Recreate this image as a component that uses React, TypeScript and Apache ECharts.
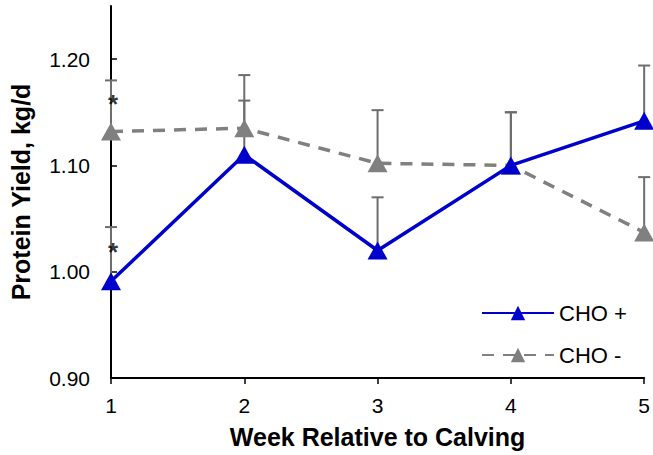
import React, { useEffect, useRef } from "react";
import * as echarts from "echarts";

const weeks = ["1", "2", "3", "4", "5"];
const choPlus = [0.991, 1.11, 1.02, 1.1, 1.142];
const choMinus = [1.132, 1.135, 1.102, 1.1, 1.037];
const choPlusUpper = [1.042, 1.161, 1.07, 1.15, 1.194];
const choMinusUpper = [1.18, 1.185, 1.152, 1.15, 1.089];
// significance markers: [week index, y position]
const starMarks: [number, number][] = [
  [0, 1.163],
  [0, 1.024],
];

const FONT = "Liberation Sans";

function errorBarSeries(values: number[], upper: number[], name: string) {
  const data = values.map((v, i) => [i, v, upper[i]]);
  return {
    type: "custom",
    name,
    z: 1,
    silent: true,
    renderItem: (_params: any, api: any) => {
      const x = api.value(0);
      const base = api.coord([x, api.value(1)]);
      const top = api.coord([x, api.value(2)]);
      const half = 6;
      const style = { stroke: "#6d6d6d", lineWidth: 2 };
      return {
        type: "group",
        children: [
          { type: "line", shape: { x1: base[0], y1: base[1], x2: top[0], y2: top[1] }, style },
          { type: "line", shape: { x1: top[0] - half, y1: top[1], x2: top[0] + half, y2: top[1] }, style },
        ],
      };
    },
    data,
  };
}

export default function App() {
  const ref = useRef<HTMLDivElement>(null);
  useEffect(() => {
    if (!ref.current) return;
    const chart = echarts.init(ref.current, undefined, { renderer: "svg" });
    chart.setOption({
      animation: false,
      textStyle: { fontFamily: FONT, fontSize: 16 },
      grid: { left: 108, right: 8, top: 6, bottom: 77 },
      legend: {
        orient: "vertical",
        left: 476,
        top: 297,
        itemWidth: 72,
        itemHeight: 18,
        itemGap: 20,
        data: ["CHO +", "CHO -"],
        textStyle: { fontFamily: FONT, fontSize: 22, color: "#000" },
      },
      xAxis: {
        type: "category",
        data: weeks,
        boundaryGap: false,
        name: "Week Relative to Calving",
        nameLocation: "middle",
        nameGap: 46,
        nameTextStyle: { fontFamily: FONT, fontSize: 25, fontWeight: "bold", color: "#000" },
        axisLine: { lineStyle: { color: "#000", width: 2 } },
        axisTick: { show: true, length: 6, inside: false, lineStyle: { color: "#000", width: 1.5 } },
        axisLabel: { fontFamily: FONT, fontSize: 21, color: "#000", margin: 17 },
      },
      yAxis: {
        type: "value",
        min: 0.9,
        max: 1.25,
        interval: 0.1,
        name: "Protein Yield, kg/d",
        nameLocation: "middle",
        nameGap: 78,
        nameTextStyle: { fontFamily: FONT, fontSize: 25, fontWeight: "bold", color: "#000" },
        axisLine: { show: true, lineStyle: { color: "#000", width: 2 } },
        axisTick: {
          show: true,
          inside: true,
          length: 6,
          lineStyle: { color: "#000", width: 1.5 },
        },
        splitLine: { show: false },
        axisLabel: {
          fontFamily: FONT,
          fontSize: 21,
          color: "#000",
          margin: 21,
          showMaxLabel: false,
          formatter: (v: number) => (v > 1.21 ? "" : v.toFixed(2)),
        },
      },
      series: [
        errorBarSeries(choPlus, choPlusUpper, "errPlus"),
        errorBarSeries(choMinus, choMinusUpper, "errMinus"),
        {
          name: "CHO -",
          type: "line",
          z: 3,
          data: choMinus,
          symbol: "triangle",
          symbolSize: [20, 18],
          itemStyle: { color: "#808080" },
          lineStyle: { color: "#808080", width: 3.5, type: [12, 9] },
        },
        {
          name: "CHO +",
          type: "line",
          z: 4,
          data: choPlus,
          symbol: "triangle",
          symbolSize: [20, 18],
          itemStyle: { color: "#0000cc" },
          lineStyle: { color: "#0000cc", width: 3.5 },
        },
        {
          name: "stars",
          type: "scatter",
          z: 5,
          symbolSize: 0,
          silent: true,
          data: starMarks,
          label: {
            show: true,
            formatter: "*",
            position: "inside",
            offset: [2, 6],
            fontFamily: FONT,
            fontSize: 26,
            fontWeight: "bold",
            color: "#000",
          },
        },
      ],
    });
    return () => chart.dispose();
  }, []);
  return <div ref={ref} style={{ width: 653, height: 455, position: "absolute", left: 0, top: 0 }} />;
}
